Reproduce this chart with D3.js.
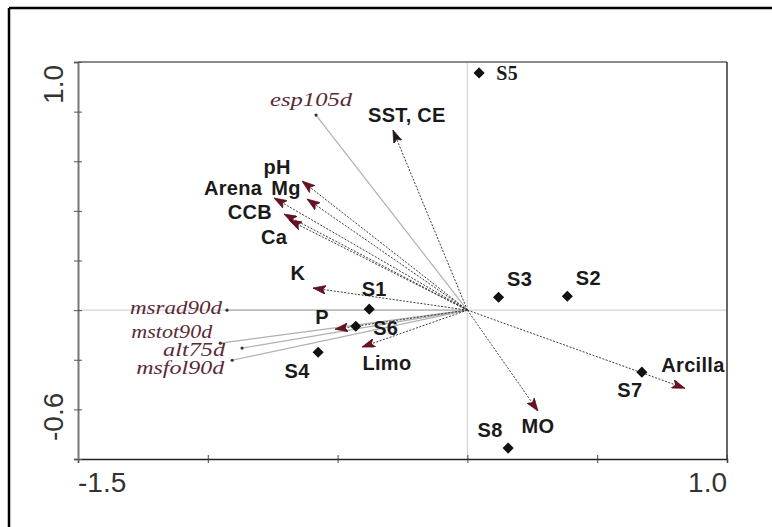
<!DOCTYPE html>
<html>
<head>
<meta charset="utf-8">
<script src="https://cdn.jsdelivr.net/npm/d3@7"></script>
<style>
  body { margin: 0; background: #fff; }
  svg { display: block; }
</style>
</head>
<body>
<div id="chart"></div>
<script>
// sites (diamonds)
var siteNames = ["S1", "S2", "S3", "S4", "S5", "S6", "S7", "S8"];
var siteX = [-0.378, 0.385, 0.12, -0.575, 0.045, -0.43, 0.672, 0.157];
var siteY = [0.004, 0.056, 0.052, -0.17, 0.956, -0.065, -0.25, -0.556];

// environmental vectors (arrows)
var envNames = ["SST, CE", "pH", "Arena", "Mg", "CCB", "Ca", "K", "P", "Limo", "Arcilla", "MO"];
var envX = [-0.287, -0.637, -0.745, -0.618, -0.707, -0.687, -0.595, -0.51, -0.406, 0.838, 0.272];
var envY = [0.726, 0.52, 0.452, 0.448, 0.387, 0.363, 0.089, -0.077, -0.149, -0.315, -0.407];

// species vectors (thin lines)
var sppNames = ["esp105d", "msrad90d", "mstot90d", "alt75d", "msfol90d"];
var sppX = [-0.583, -0.926, -0.952, -0.868, -0.906];
var sppY = [0.786, 0.0, -0.133, -0.153, -0.202];

var xTicks = [-1.5, -1.0, -0.5, 0, 0.5, 1.0];
var yTicks = [1.0, 0.8, 0.6, 0.4, 0.2, 0, -0.2, -0.4, -0.6];
var xTickLabels = ["-1.5", "1.0"];
var yTickLabels = ["1.0", "-0.6"];

// label placement, pixels from the mark
var labelPos = {
    "S1": [5, -13], "S2": [21, -11], "S3": [21, -11], "S4": [-21, 26],
    "S5": [28, 7], "S6": [30, 9], "S7": [-12, 25], "S8": [-18, -11],
    "SST, CE": [14, -8], "pH": [-25, -7], "Arena": [-41, -3], "Mg": [-21, -4],
    "CCB": [-34, 5], "Ca": [-15, 24], "K": [-15, -8], "P": [-13, -5],
    "Limo": [25, 23], "Arcilla": [8, -16], "MO": [0, 22],
    "esp105d": [-5, -9], "msrad90d": [-5, 4], "mstot90d": [-8, -5],
    "alt75d": [-17, 8], "msfol90d": [-8, 14]
};
// widths of the stretched italic labels
var sppWidth = { "esp105d": 82, "msrad90d": 92, "mstot90d": 81, "alt75d": 62, "msfol90d": 88 };

var svg = d3.select("#chart")
    .append("svg")
    .attr("width", 772)
    .attr("height", 527);

// outer border (only top and left visible)
svg.append("line").attr("x1", 9).attr("y1", 8).attr("x2", 772).attr("y2", 8)
    .attr("stroke", "#000").attr("stroke-width", 2.5);
svg.append("line").attr("x1", 9).attr("y1", 8).attr("x2", 9).attr("y2", 527)
    .attr("stroke", "#000").attr("stroke-width", 2.5);

var x = d3.scaleLinear().domain([-1.5, 1.0]).range([78, 727]);
var y = d3.scaleLinear().domain([-0.6, 1.0]).range([459, 62]);

// zero lines
svg.append("line")
    .attr("x1", x(0)).attr("x2", x(0)).attr("y1", y(1.0)).attr("y2", y(-0.6))
    .attr("stroke", "#d4d4d4").attr("stroke-width", 1.2);
svg.append("line")
    .attr("x1", x(-1.5)).attr("x2", x(1.0)).attr("y1", y(0)).attr("y2", y(0))
    .attr("stroke", "#d4d4d4").attr("stroke-width", 1.2);

// frame
svg.append("line").attr("x1", x(-1.5)).attr("x2", x(1.0)).attr("y1", y(1.0)).attr("y2", y(1.0))
    .attr("stroke", "#8a8a8a").attr("stroke-width", 2);
svg.append("line").attr("x1", x(1.0)).attr("x2", x(1.0)).attr("y1", y(1.0)).attr("y2", y(-0.6))
    .attr("stroke", "#333").attr("stroke-width", 1.5);

var xAxis = d3.axisBottom(x).tickValues(xTicks).tickSize(4).tickFormat("");
var gx = svg.append("g").attr("transform", "translate(0," + y(-0.6) + ")").call(xAxis);
gx.select(".domain").attr("stroke", "#222").attr("stroke-width", 1.5);
gx.selectAll(".tick line").attr("stroke", "#444").attr("y1", -4);

var yAxis = d3.axisLeft(y).tickValues(yTicks).tickSize(4).tickFormat("");
var gy = svg.append("g").attr("transform", "translate(" + x(-1.5) + ",0)").call(yAxis);
gy.select(".domain").attr("stroke", "#777").attr("stroke-width", 2);
gy.selectAll(".tick line").attr("stroke", "#555").attr("x1", 4);

// tick labels at the ends only
svg.append("text")
    .attr("x", x(-1.5)).attr("y", 492)
    .attr("font-family", "Liberation Sans, Arial, sans-serif")
    .attr("font-size", "28px").attr("fill", "#333")
    .text(xTickLabels[0]);
svg.append("text")
    .attr("x", x(1.0)).attr("y", 492)
    .attr("text-anchor", "end")
    .attr("font-family", "Liberation Sans, Arial, sans-serif")
    .attr("font-size", "28px").attr("fill", "#333")
    .text(xTickLabels[1]);
svg.append("text")
    .attr("transform", "translate(63," + (y(1.0) + 3) + ") rotate(-90)")
    .attr("text-anchor", "end")
    .attr("font-family", "Liberation Sans, Arial, sans-serif")
    .attr("font-size", "28px").attr("fill", "#333")
    .text(yTickLabels[0]);
svg.append("text")
    .attr("transform", "translate(63," + (y(-0.6) - 18) + ") rotate(-90)")
    .attr("text-anchor", "start")
    .attr("font-family", "Liberation Sans, Arial, sans-serif")
    .attr("font-size", "28px").attr("fill", "#333")
    .text(yTickLabels[1]);

// arrow markers
var defs = svg.append("defs");
function addMarker(id, fill) {
    defs.append("marker")
        .attr("id", id)
        .attr("viewBox", "0 0 13 9")
        .attr("refX", 13).attr("refY", 4.5)
        .attr("markerWidth", 13).attr("markerHeight", 9)
        .attr("markerUnits", "userSpaceOnUse")
        .attr("orient", "auto")
        .append("path")
        .attr("d", "M0,0 L13,4.5 L0,9 L3,4.5 Z")
        .attr("fill", fill)
        .attr("stroke", "#3a0a12")
        .attr("stroke-width", 0.6);
}
addMarker("headRed", "#6e0f22");
addMarker("headBlack", "#1a1a1a");

var env = envNames.map(function (n, i) { return { name: n, x: envX[i], y: envY[i] }; });
var spp = sppNames.map(function (n, i) { return { name: n, x: sppX[i], y: sppY[i] }; });
var sites = siteNames.map(function (n, i) { return { name: n, x: siteX[i], y: siteY[i] }; });

// species lines
svg.append("g").selectAll("line")
    .data(spp)
    .enter()
    .append("line")
    .attr("x1", x(0)).attr("y1", y(0))
    .attr("x2", function (d) { return x(d.x); })
    .attr("y2", function (d) { return y(d.y); })
    .attr("stroke", "#b0b0b0")
    .attr("stroke-width", 1.2);

svg.append("g").selectAll("circle")
    .data(spp)
    .enter()
    .append("circle")
    .attr("cx", function (d) { return x(d.x); })
    .attr("cy", function (d) { return y(d.y); })
    .attr("r", 1.6)
    .attr("fill", "#333");

// environmental arrows
svg.append("g").selectAll("line")
    .data(env)
    .enter()
    .append("line")
    .attr("x1", x(0)).attr("y1", y(0))
    .attr("x2", function (d) { return x(d.x); })
    .attr("y2", function (d) { return y(d.y); })
    .attr("stroke", "#3c3c3c")
    .attr("stroke-width", 1)
    .attr("stroke-dasharray", "2,1.5")
    .attr("marker-end", function (d) {
        return d.name == "SST, CE" ? "url(#headBlack)" : "url(#headRed)";
    });

// site diamonds
var diamond = d3.symbol().type(d3.symbolSquare).size(62);
svg.append("g").selectAll("path")
    .data(sites)
    .enter()
    .append("path")
    .attr("d", diamond)
    .attr("transform", function (d) {
        return "translate(" + x(d.x) + "," + y(d.y) + ") rotate(45)";
    })
    .attr("fill", "#111");

// labels
function bold(sel) {
    sel.attr("font-family", "Liberation Sans, Arial, sans-serif")
        .attr("font-weight", 700)
        .attr("font-size", "20px")
        .attr("letter-spacing", "0.3px")
        .attr("fill", "#1a1a1a")
        .attr("text-anchor", "middle");
}

svg.append("g").selectAll("text")
    .data(sites)
    .enter()
    .append("text")
    .call(bold)
    .attr("x", function (d) { return x(d.x) + labelPos[d.name][0]; })
    .attr("y", function (d) { return y(d.y) + labelPos[d.name][1]; })
    .attr("font-family", function (d) {
        return d.name == "S5" ? "Liberation Serif, Times New Roman, serif" : "Liberation Sans, Arial, sans-serif";
    })
    .text(function (d) { return d.name; });

svg.append("g").selectAll("text")
    .data(env)
    .enter()
    .append("text")
    .call(bold)
    .attr("x", function (d) { return x(d.x) + labelPos[d.name][0]; })
    .attr("y", function (d) { return y(d.y) + labelPos[d.name][1]; })
    .text(function (d) { return d.name; });

svg.append("g").selectAll("text")
    .data(spp)
    .enter()
    .append("text")
    .attr("x", function (d) { return x(d.x) + labelPos[d.name][0]; })
    .attr("y", function (d) { return y(d.y) + labelPos[d.name][1]; })
    .attr("font-family", "Liberation Serif, Times New Roman, serif")
    .attr("font-style", "italic")
    .attr("font-size", "18px")
    .attr("textLength", function (d) { return sppWidth[d.name]; })
    .attr("lengthAdjust", "spacingAndGlyphs")
    .attr("fill", "#5a2a36")
    .attr("text-anchor", function (d) { return d.name == "esp105d" ? "middle" : "end"; })
    .text(function (d) { return d.name; });
</script>
</body>
</html>
